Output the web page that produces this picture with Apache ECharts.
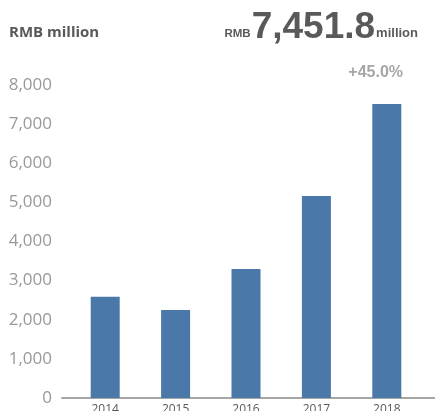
<!DOCTYPE html>
<html>
<head>
<meta charset="utf-8">
<script src="https://cdn.jsdelivr.net/npm/echarts@6/dist/echarts.min.js"></script>
<style>
  html, body { margin: 0; padding: 0; background: #fff; }
  #chart { width: 435px; height: 411px; }
</style>
</head>
<body>
<div id="chart"></div>
<script>
const years = ["2014", "2015", "2016", "2017", "2018"]
const revenue = [2589, 2249, 3297, 5163, 7514]
const headline = "7,451.8"
const growth = "+45.0%"

const chart = echarts.init(document.getElementById("chart"))
chart.setOption({
  animation: false,
  title: [
    {
      text: "RMB million",
      left: 9,
      top: 25,
      padding: 0,
      textStyle: {fontFamily: "Open Sans", fontWeight: "bold", fontSize: 15, color: "#595959"}
    },
    {
      text: "{s|RMB}{b|" + headline + "}{s2|million}",
      right: 17,
      top: 9,
      padding: 0,
      textStyle: {
        rich: {
          s: {fontFamily: "Liberation Sans", fontWeight: "bold", fontSize: 11.5, color: "#595959",
            verticalAlign: "bottom", padding: [0, 1, 6, 0]},
          b: {fontFamily: "Liberation Sans", fontWeight: "bold", fontSize: 37, color: "#595959",
            verticalAlign: "bottom"},
          s2: {fontFamily: "Liberation Sans", fontWeight: "bold", fontSize: 13, color: "#595959",
            verticalAlign: "bottom", padding: [0, 0, 6, 1]}
        }
      }
    },
    {
      text: growth,
      right: 32,
      top: 65,
      padding: 0,
      textStyle: {fontFamily: "Liberation Sans", fontWeight: "bold", fontSize: 16, color: "#a6a6a6"}
    }
  ],
  grid: [
    {left: 70, right: 13, top: 85, bottom: 13, outerBoundsMode: "none"},
    {left: 62, right: 0, top: 85, bottom: 13, outerBoundsMode: "none"}
  ],
  xAxis: [
    {
      type: "category",
      gridIndex: 0,
      data: years,
      axisLine: {show: false},
      axisTick: {show: false},
      axisLabel: {fontFamily: "Open Sans", fontSize: 12, color: "#595959", margin: 6}
    },
    {
      type: "value",
      gridIndex: 1,
      axisLine: {show: true, lineStyle: {color: "#a6a6a6", width: 2}},
      axisTick: {show: false},
      axisLabel: {show: false},
      splitLine: {show: false}
    }
  ],
  yAxis: [
    {
      type: "value",
      gridIndex: 0,
      min: 0,
      max: 8000,
      interval: 1000,
      axisLine: {show: false},
      axisTick: {show: false},
      splitLine: {show: false},
      axisLabel: {
        fontFamily: "Open Sans",
        fontSize: 17,
        color: "#999999",
        margin: 18,
        formatter: v => v.toLocaleString("en-US")
      }
    },
    {
      type: "value",
      gridIndex: 1,
      show: false
    }
  ],
  series: [
    {
      type: "bar",
      xAxisIndex: 0,
      yAxisIndex: 0,
      data: revenue,
      barWidth: 29,
      itemStyle: {color: "#4a78a8"}
    }
  ]
})
</script>
</body>
</html>
